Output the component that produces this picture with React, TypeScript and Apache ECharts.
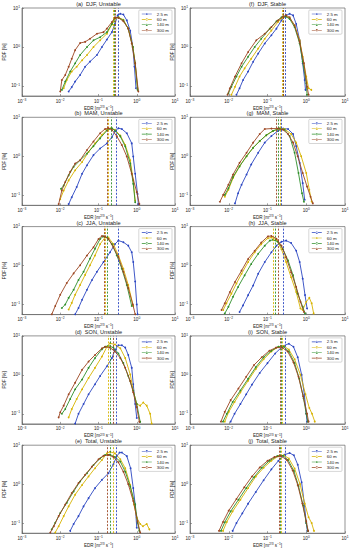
import React, { useEffect, useRef } from 'react';
import * as echarts from 'echarts';

const heights = ['2.5 m', '60 m', '140 m', '300 m'];
const colors = ['#2b46c2', '#d7b300', '#2f8f2a', '#9c4520'];
const titles = [
  '(a)  DJF, Unstable', '(b)  MAM, Unstable', '(c)  JJA, Unstable', '(d)  SON, Unstable', '(e)  Total, Unstable',
  '(f)  DJF, Stable', '(g)  MAM, Stable', '(h)  JJA, Stable', '(i)  SON, Stable', '(j)  Total, Stable',
];

// ---- (a) DJF Unstable
const a25 = [[0.0166,0.072],[0.02,0.093],[0.0245,0.129],[0.033,0.19],[0.0447,0.31],[0.06,0.42],[0.091,0.62],[0.123,1.0],[0.166,1.55],[0.224,2.4],[0.269,3.9],[0.316,6.5],[0.372,7.1],[0.447,6.8],[0.55,4.8],[0.676,2.6],[0.79,1.0],[0.87,0.31],[0.955,0.087]];
const a60 = [[0.0123,0.087],[0.0148,0.141],[0.02,0.234],[0.0269,0.31],[0.0372,0.457],[0.05,0.62],[0.074,1.0],[0.11,1.48],[0.166,2.19],[0.224,3.8],[0.269,5.25],[0.331,5.75],[0.447,5.0],[0.6,2.95],[0.79,1.0],[0.91,0.38],[1.05,0.087]];
const a140 = [[0.011,0.079],[0.0135,0.129],[0.0182,0.234],[0.0245,0.38],[0.033,0.62],[0.05,1.0],[0.074,1.48],[0.11,1.78],[0.166,2.4],[0.224,3.9],[0.269,5.6],[0.331,5.75],[0.447,4.8],[0.6,2.95],[0.79,1.0],[0.91,0.38],[1.05,0.079]];
const a300 = [[0.01,0.072],[0.011,0.141],[0.0135,0.19],[0.0166,0.31],[0.02,0.5],[0.0245,0.83],[0.033,1.26],[0.0447,1.35],[0.06,1.62],[0.091,2.19],[0.135,2.4],[0.166,2.95],[0.224,4.37],[0.269,5.75],[0.331,5.6],[0.447,4.57],[0.6,2.95],[0.74,1.23],[0.91,0.38],[1.1,0.072]];
const aMed = [0.32, 0.24, 0.26, 0.28];

// ---- (b) MAM Unstable
const b25 = [[0.0166,0.059],[0.02,0.089],[0.0269,0.162],[0.0372,0.355],[0.05,0.59],[0.074,1.07],[0.11,1.58],[0.166,2.14],[0.224,3.09],[0.269,4.37],[0.331,5.25],[0.407,5.0],[0.55,3.9],[0.74,2.14],[0.81,0.98],[0.91,0.355],[1.05,0.107],[1.1,0.059]];
const b60 = [[0.01,0.079],[0.0123,0.132],[0.0166,0.24],[0.0245,0.437],[0.0372,0.71],[0.055,1.29],[0.081,2.14],[0.123,3.55],[0.166,4.8],[0.209,5.25],[0.269,4.8],[0.372,3.39],[0.5,1.95],[0.676,0.79],[0.81,0.24],[0.91,0.072]];
const b140 = [[0.0105,0.145],[0.0123,0.178],[0.0166,0.324],[0.0224,0.537],[0.033,0.79],[0.05,1.17],[0.074,1.82],[0.11,2.88],[0.166,4.57],[0.224,5.25],[0.269,4.57],[0.372,3.24],[0.5,1.78],[0.676,0.65],[0.81,0.195],[0.91,0.066]];
const b300 = [[0.0091,0.059],[0.011,0.132],[0.0135,0.219],[0.0182,0.4],[0.0245,0.65],[0.033,0.79],[0.05,1.45],[0.074,2.4],[0.11,3.9],[0.148,5.0],[0.182,5.25],[0.224,4.8],[0.302,3.24],[0.407,1.95],[0.55,0.98],[0.74,0.355],[1.0,0.12],[1.17,0.059]];
const bMed = [0.30, 0.18, 0.21, 0.166];

// ---- (c) JJA Unstable
const c25 = [[0.0245,0.056],[0.03,0.081],[0.0372,0.132],[0.05,0.24],[0.0676,0.427],[0.091,0.69],[0.135,1.23],[0.2,2.19],[0.269,3.55],[0.331,4.37],[0.447,3.98],[0.6,3.24],[0.74,2.19],[0.81,1.23],[0.91,0.39],[1.0,0.1],[1.05,0.056]];
const c60 = [[0.0166,0.074],[0.02,0.11],[0.0245,0.178],[0.033,0.316],[0.0447,0.575],[0.06,1.02],[0.081,1.82],[0.11,3.55],[0.148,5.25],[0.182,5.25],[0.245,3.55],[0.331,1.82],[0.447,0.83],[0.6,0.316],[0.81,0.091]];
const c140 = [[0.011,0.081],[0.0135,0.1],[0.0166,0.148],[0.0224,0.24],[0.03,0.427],[0.0407,0.69],[0.06,1.51],[0.081,2.69],[0.11,4.8],[0.135,5.6],[0.166,5.25],[0.224,3.55],[0.302,1.82],[0.407,0.83],[0.55,0.316],[0.74,0.091]];
const c300 = [[0.006,0.056],[0.0074,0.091],[0.01,0.178],[0.0148,0.355],[0.0224,0.63],[0.033,1.02],[0.05,1.82],[0.074,2.95],[0.1,4.8],[0.123,5.75],[0.148,5.6],[0.182,4.8],[0.245,2.95],[0.331,1.66],[0.447,0.69],[0.6,0.263],[0.79,0.1],[0.91,0.056]];
const cMed = [0.32, 0.15, 0.17, 0.14];

// ---- (d) SON Unstable
const d25 = [[0.0245,0.056],[0.03,0.1],[0.0407,0.178],[0.055,0.316],[0.081,0.575],[0.11,0.93],[0.166,1.66],[0.224,2.69],[0.269,4.37],[0.331,5.75],[0.407,5.75],[0.5,5.0],[0.6,3.24],[0.74,1.51],[0.81,0.575],[0.91,0.178],[1.0,0.078]];
const d60 = [[0.0166,0.081],[0.02,0.132],[0.0269,0.24],[0.0372,0.427],[0.055,0.83],[0.081,1.51],[0.123,2.95],[0.166,5.25],[0.2,6.46],[0.269,6.03],[0.372,4.8],[0.5,2.69],[0.676,1.02],[0.81,0.39],[1.0,0.178],[1.23,0.162],[1.48,0.195],[1.82,0.162],[2.24,0.1],[2.45,0.056]];
const d140 = [[0.011,0.1],[0.0135,0.132],[0.0182,0.24],[0.0245,0.427],[0.0372,0.76],[0.055,1.51],[0.081,2.69],[0.123,4.57],[0.148,5.25],[0.182,5.6],[0.245,5.0],[0.331,3.55],[0.447,2.0],[0.6,0.93],[0.81,0.39],[1.0,0.178],[1.23,0.062]];
const d300 = [[0.0091,0.081],[0.01,0.11],[0.0123,0.162],[0.0166,0.316],[0.0245,0.63],[0.0372,1.35],[0.055,2.19],[0.081,3.24],[0.123,4.8],[0.148,5.25],[0.2,5.0],[0.269,3.98],[0.372,2.69],[0.5,1.51],[0.676,0.69],[0.81,0.355],[1.0,0.148],[1.17,0.062]];
const dMed = [0.30, 0.18, 0.20, 0.245];

// ---- (e) Total Unstable
const e25 = [[0.0182,0.063],[0.0224,0.095],[0.03,0.151],[0.0407,0.269],[0.055,0.437],[0.081,0.79],[0.123,1.29],[0.182,1.91],[0.245,3.24],[0.302,5.25],[0.355,6.46],[0.407,6.46],[0.55,5.25],[0.69,2.57],[0.81,0.79],[0.91,0.3],[1.0,0.076]];
const e60 = [[0.0074,0.0575],[0.0091,0.083],[0.0123,0.151],[0.0166,0.269],[0.0245,0.537],[0.0372,0.955],[0.055,1.58],[0.081,2.57],[0.123,4.17],[0.166,6.17],[0.2,6.76],[0.269,6.17],[0.372,4.37],[0.5,2.57],[0.676,0.955],[0.85,0.3],[1.0,0.138],[1.23,0.095],[1.45,0.083],[1.82,0.095],[2.14,0.069]];
const e140 = [[0.006,0.069],[0.0074,0.102],[0.01,0.182],[0.0148,0.331],[0.0224,0.65],[0.033,1.17],[0.05,1.91],[0.074,3.09],[0.11,4.57],[0.148,5.6],[0.2,5.75],[0.269,5.0],[0.372,3.8],[0.5,2.09],[0.676,0.87],[0.91,0.3],[1.05,0.102],[1.17,0.063]];
const e300 = [[0.0055,0.0575],[0.0068,0.083],[0.0091,0.151],[0.0135,0.3],[0.02,0.59],[0.03,1.07],[0.0447,1.74],[0.0676,2.82],[0.1,4.37],[0.135,5.37],[0.182,5.6],[0.245,5.0],[0.331,3.63],[0.447,2.09],[0.6,1.0],[0.81,0.37],[1.05,0.112],[1.23,0.0575]];
const eMed = [0.30, 0.24, 0.20, 0.17];

// ---- (f) DJF Stable
const f25 = [[0.0158,0.059],[0.019,0.087],[0.0234,0.141],[0.0316,0.234],[0.0427,0.417],[0.0575,0.676],[0.085,1.23],[0.126,2.0],[0.17,2.95],[0.229,4.8],[0.302,6.46],[0.372,7.08],[0.457,6.46],[0.55,3.9],[0.676,1.48],[0.81,0.38],[0.91,0.141],[0.955,0.079]];
const f60 = [[0.0117,0.059],[0.0145,0.095],[0.019,0.174],[0.0257,0.282],[0.038,0.5],[0.0575,0.91],[0.085,1.62],[0.126,2.63],[0.186,4.37],[0.251,5.75],[0.302,6.03],[0.372,5.6],[0.5,3.55],[0.676,1.48],[0.81,0.56],[1.0,0.174],[1.15,0.087],[1.35,0.079]];
const f140 = [[0.0098,0.0645],[0.0117,0.095],[0.0158,0.174],[0.0214,0.309],[0.0316,0.56],[0.0468,1.0],[0.069,1.62],[0.115,2.95],[0.17,4.57],[0.229,5.75],[0.295,6.03],[0.372,5.25],[0.5,3.24],[0.676,1.23],[0.81,0.417],[1.0,0.117],[1.05,0.059]];
const f300 = [[0.0093,0.059],[0.0107,0.087],[0.0145,0.174],[0.0214,0.38],[0.0316,0.741],[0.0513,1.48],[0.085,2.19],[0.126,3.24],[0.186,4.8],[0.251,6.03],[0.302,6.46],[0.372,5.75],[0.5,3.55],[0.676,1.35],[0.87,0.38],[1.05,0.095],[1.15,0.059]];
const fMed = [0.28, 0.24, 0.25, 0.26];

// ---- (g) MAM Stable
const g25 = [[0.0145,0.0617],[0.0174,0.112],[0.0214,0.186],[0.0288,0.339],[0.038,0.617],[0.0575,1.23],[0.085,2.24],[0.126,3.31],[0.186,4.47],[0.251,5.13],[0.339,5.0],[0.457,3.72],[0.55,1.82],[0.676,0.676],[0.81,0.204],[0.91,0.076]];
const g60 = [[0.0079,0.091],[0.0098,0.138],[0.0129,0.275],[0.019,0.55],[0.0288,1.0],[0.0427,1.66],[0.063,2.45],[0.093,3.47],[0.138,4.47],[0.204,5.13],[0.275,5.0],[0.407,3.72],[0.55,2.24],[0.74,1.0],[1.0,0.37],[1.2,0.138],[1.38,0.0676]];
const g140 = [[0.0079,0.102],[0.0098,0.151],[0.0129,0.295],[0.019,0.55],[0.0288,1.0],[0.0427,1.66],[0.063,2.45],[0.093,3.47],[0.138,4.47],[0.204,5.13],[0.275,4.8],[0.372,3.31],[0.5,1.23],[0.63,0.37],[0.776,0.112],[0.87,0.0676]];
const g300 = [[0.0059,0.0676],[0.0072,0.102],[0.0098,0.186],[0.0129,0.339],[0.019,0.676],[0.0288,1.23],[0.0427,2.24],[0.063,3.72],[0.085,5.0],[0.126,5.13],[0.186,5.13],[0.251,4.8],[0.339,3.72],[0.457,2.24],[0.6,1.0],[0.81,0.37],[1.05,0.166],[1.29,0.091],[1.48,0.0617]];
const gMed = [0.23, 0.21, 0.19, 0.17];

// ---- (h) JJA Stable
const h25 = [[0.019,0.0645],[0.0234,0.095],[0.0316,0.174],[0.0427,0.309],[0.0575,0.617],[0.085,1.23],[0.126,2.19],[0.17,3.24],[0.229,4.07],[0.302,4.37],[0.407,3.8],[0.55,2.4],[0.676,1.23],[0.81,0.457],[0.93,0.174],[1.05,0.079]];
const h60 = [[0.0072,0.0724],[0.0087,0.107],[0.0117,0.19],[0.0158,0.347],[0.0214,0.617],[0.0316,1.23],[0.0468,2.19],[0.069,3.55],[0.102,5.0],[0.126,5.25],[0.17,4.57],[0.229,2.63],[0.302,1.23],[0.407,0.5],[0.55,0.209],[0.708,0.079],[0.81,0.0724],[1.0,0.117],[1.2,0.148],[1.38,0.107],[1.55,0.059]];
const h140 = [[0.0079,0.059],[0.0098,0.087],[0.0129,0.158],[0.0174,0.282],[0.0257,0.56],[0.038,1.1],[0.0575,2.0],[0.085,3.24],[0.115,4.37],[0.138,4.57],[0.186,4.07],[0.251,2.63],[0.339,1.35],[0.457,0.56],[0.6,0.19],[0.81,0.087],[0.93,0.059]];
const h300 = [[0.0065,0.0724],[0.0079,0.107],[0.0107,0.209],[0.0145,0.38],[0.0214,0.741],[0.0316,1.48],[0.0468,2.4],[0.069,3.9],[0.102,5.6],[0.126,5.75],[0.17,4.9],[0.229,3.24],[0.302,1.62],[0.407,0.676],[0.55,0.282],[0.708,0.117],[0.87,0.0645]];
const hMed = [0.25, 0.145, 0.16, 0.19];

// ---- (i) SON Stable
const i25 = [[0.0112,0.063],[0.0141,0.1],[0.02,0.178],[0.0282,0.316],[0.0398,0.562],[0.063,1.12],[0.1,2.0],[0.158,3.55],[0.251,5.5],[0.355,6.31],[0.468,5.25],[0.603,2.82],[0.759,1.0],[0.891,0.316],[1.0,0.1],[1.05,0.063]];
const i60 = [[0.0079,0.063],[0.01,0.112],[0.0141,0.2],[0.02,0.355],[0.0316,0.708],[0.05,1.41],[0.0794,2.51],[0.126,3.98],[0.191,5.25],[0.263,5.5],[0.355,4.47],[0.501,2.51],[0.708,1.0],[0.955,0.316],[1.2,0.141],[1.41,0.1],[1.66,0.063]];
const i140 = [[0.0071,0.063],[0.0089,0.1],[0.0126,0.2],[0.02,0.398],[0.0316,0.794],[0.05,1.58],[0.0794,2.82],[0.126,4.17],[0.191,5.25],[0.263,5.25],[0.355,3.98],[0.501,2.0],[0.661,0.794],[0.851,0.251],[1.0,0.1],[1.1,0.063]];
const i300 = [[0.0063,0.063],[0.0079,0.112],[0.0112,0.224],[0.0178,0.447],[0.0282,0.891],[0.0447,1.78],[0.0708,2.82],[0.112,4.17],[0.166,5.0],[0.24,5.0],[0.331,3.98],[0.468,2.09],[0.631,0.891],[0.832,0.282],[1.05,0.1],[1.15,0.063]];
const iMed = [0.28, 0.24, 0.22, 0.21];

// ---- (j) Total Stable
const j25 = [[0.0126,0.063],[0.0158,0.1],[0.0224,0.178],[0.0316,0.316],[0.05,0.631],[0.0794,1.26],[0.126,2.4],[0.191,3.98],[0.282,5.75],[0.372,6.31],[0.479,5.5],[0.603,3.16],[0.759,1.12],[0.891,0.316],[1.0,0.1],[1.07,0.063]];
const j60 = [[0.0071,0.063],[0.0089,0.107],[0.0126,0.2],[0.02,0.398],[0.0316,0.794],[0.05,1.58],[0.0794,2.63],[0.126,3.98],[0.191,5.25],[0.263,5.5],[0.355,4.57],[0.501,2.51],[0.692,1.0],[0.912,0.316],[1.15,0.141],[1.38,0.1],[1.58,0.063]];
const j140 = [[0.0063,0.063],[0.0079,0.105],[0.0112,0.2],[0.0178,0.398],[0.0282,0.794],[0.0447,1.51],[0.0708,2.63],[0.112,3.98],[0.178,5.25],[0.251,5.37],[0.339,4.17],[0.479,2.19],[0.631,0.891],[0.832,0.282],[1.0,0.1],[1.1,0.063]];
const j300 = [[0.0056,0.063],[0.0071,0.107],[0.01,0.209],[0.0158,0.417],[0.0251,0.832],[0.0398,1.58],[0.063,2.69],[0.1,3.98],[0.151,5.0],[0.224,5.25],[0.316,4.17],[0.447,2.24],[0.603,0.955],[0.794,0.316],[1.0,0.112],[1.12,0.063]];
const jMed = [0.28, 0.23, 0.21, 0.20];

const panelData = [
  [a25, a60, a140, a300], [b25, b60, b140, b300], [c25, c60, c140, c300], [d25, d60, d140, d300], [e25, e60, e140, e300],
  [f25, f60, f140, f300], [g25, g60, g140, g300], [h25, h60, h140, h300], [i25, i60, i140, i300], [j25, j60, j140, j300],
];
const panelMed = [aMed, bMed, cMed, dMed, eMed, fMed, gMed, hMed, iMed, jMed];

const xMin = 0.001, xMax = 10;
const yMin = 0.055, yMax = 10;

const W = 353, H = 550;
const FONT = 'Liberation Sans, Arial, sans-serif';
const LEGEND_ICON = 'path://M0,4.3h25v1.4h-25z M12.5,2.2a2.8,2.8 0 1,0 0.01,0z';

function gridRect(i: number) {
  const col = i < 5 ? 0 : 1;
  const row = i % 5;
  const left = col === 0 ? 22 : 190;
  const width = col === 0 ? 153 : 155;
  const top = 8 + row * 109.3;
  const height = 88;
  return { left, width, top, height };
}

const powLabel = (v: number) => {
  const l = Math.log10(v);
  const e = Math.round(l);
  if (Math.abs(l - e) > 1e-6) return '';
  return `{b|10}{s|${e < 0 ? '\u2212' + -e : e}}`;
};
const labelRich = {
  b: { fontSize: 4.6, fontFamily: FONT, color: '#222' },
  s: { fontSize: 3.3, fontFamily: FONT, color: '#222', padding: [0, 0, 3, 0] },
};

export default function App() {
  const ref = useRef<HTMLDivElement>(null);
  useEffect(() => {
    if (!ref.current) return;
    const chart = echarts.init(ref.current, undefined, { renderer: 'svg' });
    const grids: any[] = [];
    const xAxes: any[] = [];
    const yAxes: any[] = [];
    const titleArr: any[] = [];
    const legends: any[] = [];
    const series: any[] = [];
    panelData.forEach((curves, i) => {
      const g = gridRect(i);
      grids.push({ left: g.left, top: g.top, width: g.width, height: g.height, show: true, borderColor: '#666', borderWidth: 0.7, backgroundColor: '#fff' });
      xAxes.push({
        type: 'log', gridIndex: i, min: xMin, max: xMax,
        axisLine: { show: true, lineStyle: { color: '#666', width: 0.7 } },
        axisTick: { show: true, inside: true, length: 2, lineStyle: { color: '#666', width: 0.6 } },
        splitLine: { show: false },
        axisLabel: { formatter: powLabel, rich: labelRich, margin: 2, hideOverlap: false, showMinLabel: true, showMaxLabel: true },
        name: 'EDR [m{s|2/3} s{s|\u22121}]', nameLocation: 'middle', nameGap: 9,
        nameTextStyle: { fontSize: 4.6, fontFamily: FONT, color: '#222', rich: { s: { fontSize: 3.3, fontFamily: FONT, color: '#222', padding: [0, 0, 3, 0] } } },
      });
      yAxes.push({
        type: 'log', gridIndex: i, min: yMin, max: yMax,
        axisLine: { show: true, lineStyle: { color: '#666', width: 0.7 } },
        axisTick: { show: true, inside: true, length: 2, lineStyle: { color: '#666', width: 0.6 } },
        splitLine: { show: false },
        axisLabel: { formatter: powLabel, rich: labelRich, margin: 2, showMinLabel: true, showMaxLabel: true },
        name: 'PDF [%]', nameLocation: 'middle', nameGap: 12,
        nameTextStyle: { fontSize: 4.6, fontFamily: FONT, color: '#222' },
      });
      titleArr.push({
        text: titles[i], left: g.left + g.width / 2, top: g.top - 7, textAlign: 'center', padding: 0,
        textStyle: { fontSize: 5.6, fontWeight: 'normal', fontFamily: FONT, color: '#222' },
      });
      legends.push({
        data: heights.map((n, k) => ({ name: n, icon: LEGEND_ICON, itemStyle: { color: colors[k] } })),
        orient: 'vertical', right: W - (g.left + g.width) + 3, top: g.top + 2,
        itemWidth: 10, itemHeight: 4, itemGap: 1.4, padding: [2, 3, 2, 3],
        textStyle: { fontSize: 4.4, fontFamily: FONT, color: '#222' },
        backgroundColor: '#fff', borderColor: '#bbb', borderWidth: 0.6, borderRadius: 1,
        selectedMode: false,
      });
      curves.forEach((d, k) => {
        series.push({
          type: 'line', name: heights[k], xAxisIndex: i, yAxisIndex: i, data: d,
          symbol: 'circle', symbolSize: 1.8, showSymbol: true, clip: true, z: 2 + k,
          lineStyle: { width: 0.9, color: colors[k] }, itemStyle: { color: colors[k] },
          markLine: {
            silent: true, symbol: ['none', 'none'], label: { show: false },
            lineStyle: { type: [2, 1.5], width: 0.9, color: colors[k] },
            data: [{ xAxis: panelMed[i][k] }],
          },
        });
      });
    });
    chart.setOption({
      animation: false,
      backgroundColor: '#fff',
      textStyle: { fontFamily: FONT },
      title: titleArr,
      legend: legends,
      grid: grids,
      xAxis: xAxes,
      yAxis: yAxes,
      series,
    });
    return () => chart.dispose();
  }, []);
  return <div ref={ref} style={{ position: 'fixed', left: 0, top: 0, width: W, height: H }} />;
}
